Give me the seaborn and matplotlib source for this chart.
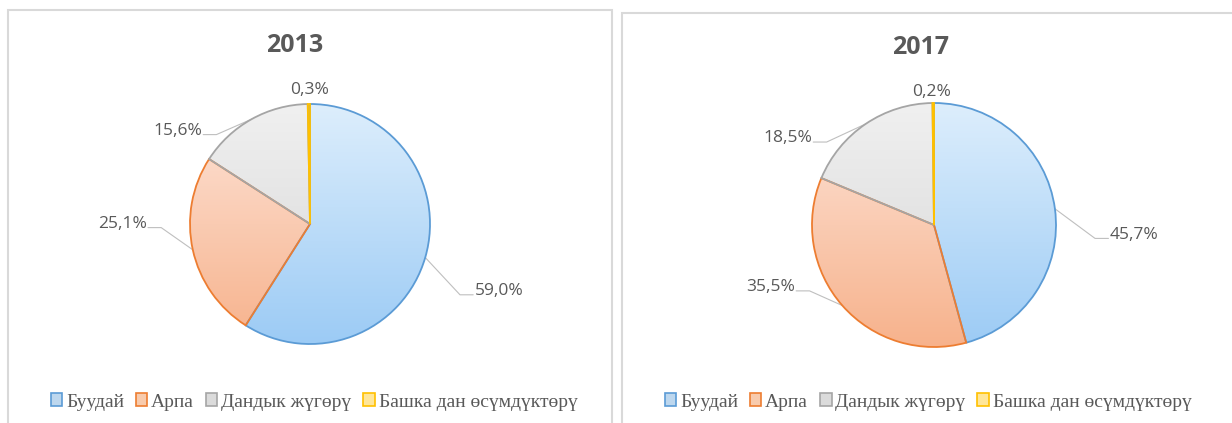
import numpy as np
import matplotlib
matplotlib.use("Agg")
import matplotlib.pyplot as plt
from matplotlib.colors import LinearSegmentedColormap
from matplotlib.patches import Patch, Rectangle
import seaborn as sns

# data
crops = ["Буудай", "Арпа", "Дандык жүгөрү", "Башка дан өсүмдүктөрү"]
years = ["2013", "2017"]
share_2013 = [59.0, 25.1, 15.6, 0.3]
share_2017 = [45.7, 35.5, 18.5, 0.2]

# style
edge_colors = ["#5B9BD5", "#ED7D31", "#A5A5A5", "#FFC000"]
top_colors = ["#DDEEFC", "#FDE4D8", "#F0F0F0", "#FFC000"]
bottom_colors = ["#9CCBF5", "#F7B28C", "#D6D6D6", "#FFC000"]
legend_fill = ["#BDD7EE", "#F8CBAD", "#DBDBDB", "#FFE699"]
text_gray = "#595959"

W, H = 1232, 423

sns.set_theme(style="white")
plt.rcParams["font.family"] = ["Open Sans", "DejaVu Sans"]


def fx(px):
    return px / W


def fy(py):
    return 1 - py / H


# label placement (radius units, relative to pie centre), per panel
label_layout = [
    [(1.37, -0.56, "left"), (-1.36, 0.0, "right"), (-0.90, 0.775, "right"), (0.0, 1.12, "center")],
    [(1.44, -0.08, "left"), (-1.14, -0.51, "right"), (-1.0, 0.71, "right"), (-0.02, 1.09, "center")],
]
panels = [
    dict(box=(8, 10, 612, 440), center=(310, 224), r=120, title=(295, 45), legend_x=314),
    dict(box=(622, 13, 1245, 440), center=(934, 225), r=122, title=(921, 47), legend_x=928),
]


def draw_pie(fig, panel, values, year, layout):
    x0, y0, x1, y1 = panel["box"]
    fig.patches.append(Rectangle((fx(x0), fy(y1)), fx(x1 - x0), (y1 - y0) / H,
                                 transform=fig.transFigure, fill=False,
                                 edgecolor="#D9D9D9", linewidth=1.5))

    cx, cy = panel["center"]
    r = panel["r"]
    S = 340
    ax = fig.add_axes([fx(cx - S / 2), fy(cy + S / 2), S / W, S / H])
    lim = S / 2 / r

    wedges, _ = ax.pie(values, startangle=90, counterclock=False, radius=1,
                       wedgeprops=dict(linewidth=1.3))

    # vertical gradient fill clipped to each wedge
    grad = np.linspace(0, 1, 256).reshape(-1, 1)
    for i, w in enumerate(wedges):
        cmap = LinearSegmentedColormap.from_list(f"g{i}", [bottom_colors[i], top_colors[i]])
        im = ax.imshow(grad, cmap=cmap, extent=(-1, 1, -1, 1), origin="lower",
                       aspect="auto", zorder=1)
        im.set_clip_path(w)
        w.set_facecolor("none")
        w.set_edgecolor(edge_colors[i])
        w.set_zorder(2)

    for i, w in enumerate(wedges):
        tx, ty, ha = layout[i]
        txt = f"{values[i]:.1f}".replace(".", ",") + "%"
        ax.text(tx, ty, txt, ha=ha, va="center", fontsize=12.5, color=text_gray,
                clip_on=False)
        if ha == "center":
            continue
        mid = np.deg2rad((w.theta1 + w.theta2) / 2)
        ex, ey = np.cos(mid), np.sin(mid)
        sign = -1 if ha == "left" else 1
        ly = ty - 0.03
        ax.plot([ex, tx + sign * 0.12, tx + sign * 0.01], [ey, ly, ly],
                color="#BFBFBF", linewidth=0.8, clip_on=False, zorder=0)

    ax.set_xlim(-lim, lim)
    ax.set_ylim(-lim, lim)
    ax.set_aspect("equal")
    ax.axis("off")

    tx, ty = panel["title"]
    fig.text(fx(tx), fy(ty), year, ha="center", va="center", fontsize=18,
             fontweight="bold", color=text_gray)

    handles = [Patch(facecolor=legend_fill[i], edgecolor=edge_colors[i], linewidth=1.2)
               for i in range(len(crops))]
    leg = fig.legend(handles, crops, loc="center",
                     bbox_to_anchor=(fx(panel["legend_x"]), fy(402)),
                     ncol=4, frameon=False, handlelength=0.6, handleheight=0.6,
                     handletextpad=0.2, columnspacing=0.6, fontsize=14)
    for t in leg.get_texts():
        t.set_family(["Liberation Serif", "DejaVu Serif"])
        t.set_color(text_gray)


fig = plt.figure(figsize=(W / 100, H / 100), dpi=100)
fig.patch.set_facecolor("white")
for panel, year, vals, layout in zip(panels, years, [share_2013, share_2017], label_layout):
    draw_pie(fig, panel, vals, year, layout)

fig.savefig("out.png", dpi=100, facecolor="white")
